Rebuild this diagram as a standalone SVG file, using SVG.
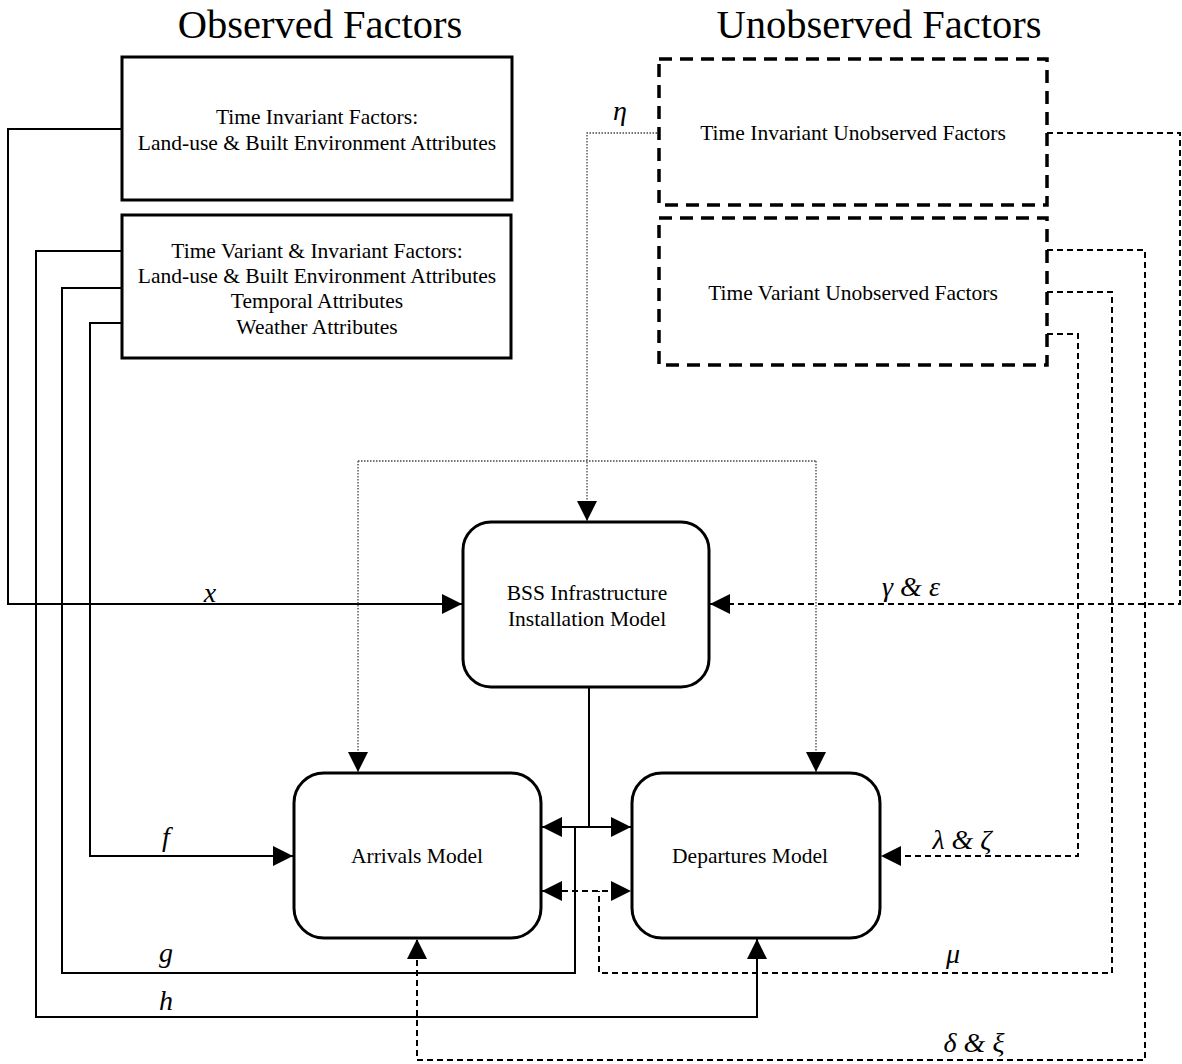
<svg xmlns="http://www.w3.org/2000/svg" width="1182" height="1064" viewBox="0 0 1182 1064">
<style>
.bg{fill:#fff}
.title{font-family:"Liberation Serif","Times New Roman",serif;font-size:40.5px;fill:#000;text-anchor:middle}
.lbl{font-family:"Liberation Serif","Times New Roman",serif;font-size:21.5px;fill:#000;text-anchor:middle}
.math{font-family:"Liberation Serif","DejaVu Serif",serif;font-style:italic;font-size:28px;fill:#000;text-anchor:middle}
.box{fill:#fff;stroke:#000;stroke-width:3}
.dbox{fill:#fff;stroke:#000;stroke-width:3.5;stroke-dasharray:13,8}
.rbox{fill:#fff;stroke:#000;stroke-width:3}
.c{fill:none;stroke:#000;stroke-width:2}
.d{fill:none;stroke:#000;stroke-width:2;stroke-dasharray:6,4}
.t{fill:none;stroke:#444;stroke-width:1.3;stroke-dasharray:1.5,1.5}
</style>
<defs>
<marker id="ah" markerUnits="userSpaceOnUse" markerWidth="20" markerHeight="20" viewBox="0 0 20 20" refX="20" refY="10" orient="auto-start-reverse">
<path d="M0,0 L20,10 L0,20 z" fill="#000"/>
</marker>
</defs>
<rect class="bg" x="0" y="0" width="1182" height="1064"/>
<g id="titles">
<text class="title" x="320" y="38">Observed Factors</text>
<text class="title" x="879" y="38">Unobserved Factors</text>
</g>
<g id="connectors">
<path class="c" d="M122,129 H8 V604 H462" marker-end="url(#ah)"/>
<path class="c" d="M122,251 H36 V1017 H757 V939" marker-end="url(#ah)"/>
<path class="c" d="M122,288 H62 V973 H575 V827"/>
<path class="c" d="M122,323 H90 V856 H293" marker-end="url(#ah)"/>
<path class="c" d="M589,687 V827"/>
<path class="c" d="M542,827 H631" marker-start="url(#ah)" marker-end="url(#ah)"/>
<path class="d" d="M1047,133 H1180 V604 H710" marker-end="url(#ah)"/>
<path class="d" d="M1047,250 H1145 V1060 H417 V939" marker-end="url(#ah)"/>
<path class="d" d="M1047,292 H1112 V973 H599 V891"/>
<path class="d" d="M1047,334 H1078 V856 H881" marker-end="url(#ah)"/>
<path class="d" d="M542,891 H631" marker-start="url(#ah)" marker-end="url(#ah)"/>
<path class="t" d="M657,133 H587 V521" marker-end="url(#ah)"/>
<path class="t" d="M358,461 H816"/>
<path class="t" d="M358,461 V772" marker-end="url(#ah)"/>
<path class="t" d="M816,461 V772" marker-end="url(#ah)"/>
</g>
<g id="labels">
<text class="math" x="210" y="602">x</text>
<text class="math" x="166" y="846">f</text>
<text class="math" x="166" y="962">g</text>
<text class="math" x="166" y="1010">h</text>
<text class="math" x="620" y="120">η</text>
<text class="math" x="911" y="596">γ &amp; ε</text>
<text class="math" x="962" y="849">λ &amp; ζ</text>
<text class="math" x="953" y="963">μ</text>
<text class="math" x="974" y="1052">δ &amp; ξ</text>
</g>
<g id="time-invariant-factors">
<rect class="box" x="122" y="57" width="390" height="143"/>
<text class="lbl" x="317" y="124">Time Invariant Factors:</text>
<text class="lbl" x="317" y="150">Land-use &amp; Built Environment Attributes</text>
</g>
<g id="time-variant-invariant-factors">
<rect class="box" x="122" y="215" width="389" height="143"/>
<text class="lbl" x="317" y="258">Time Variant &amp; Invariant Factors:</text>
<text class="lbl" x="317" y="283">Land-use &amp; Built Environment Attributes</text>
<text class="lbl" x="317" y="308">Temporal Attributes</text>
<text class="lbl" x="317" y="334">Weather Attributes</text>
</g>
<g id="time-invariant-unobserved">
<rect class="dbox" x="659" y="59" width="388" height="146"/>
<text class="lbl" x="853" y="140">Time Invariant Unobserved Factors</text>
</g>
<g id="time-variant-unobserved">
<rect class="dbox" x="659" y="218" width="388" height="147"/>
<text class="lbl" x="853" y="300">Time Variant Unobserved Factors</text>
</g>
<g id="bss-model">
<rect class="rbox" x="463" y="522" width="246" height="165" rx="28" ry="28"/>
<text class="lbl" x="587" y="600">BSS Infrastructure</text>
<text class="lbl" x="587" y="626">Installation Model</text>
</g>
<g id="arrivals-model">
<rect class="rbox" x="294" y="773" width="247" height="165" rx="30" ry="30"/>
<text class="lbl" x="417" y="863">Arrivals Model</text>
</g>
<g id="departures-model">
<rect class="rbox" x="632" y="773" width="248" height="165" rx="30" ry="30"/>
<text class="lbl" x="750" y="863">Departures Model</text>
</g>
</svg>
